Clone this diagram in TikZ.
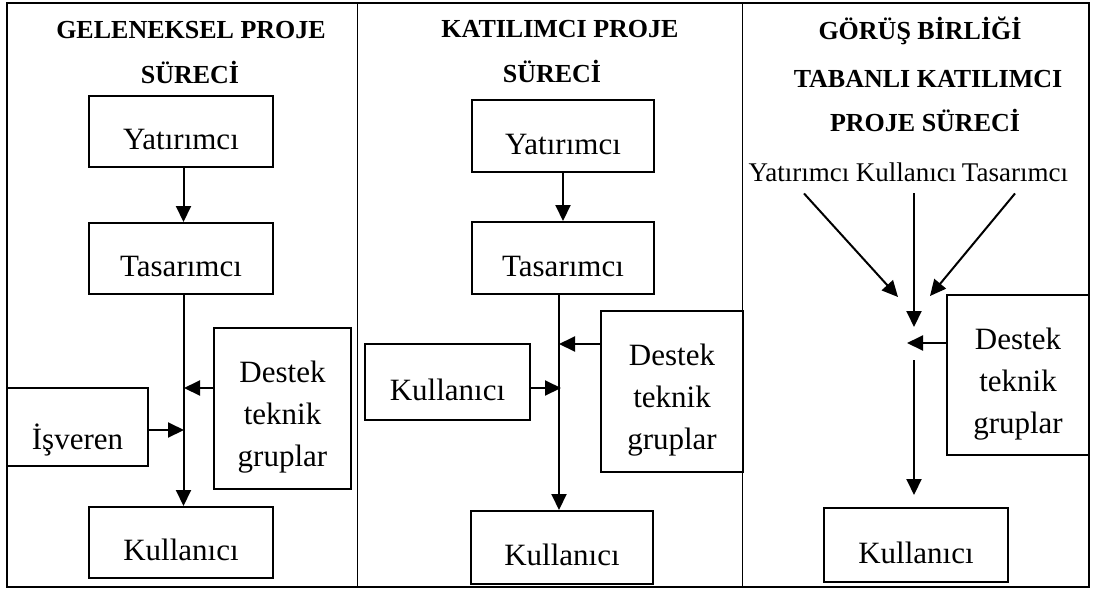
\documentclass[tikz,border=0pt]{standalone}
\usepackage{fontspec}
\setmainfont{Liberation Serif}
\usetikzlibrary{arrows.meta}
\begin{document}
\begin{tikzpicture}[x=1pt,y=-1pt,
  box/.style={draw, line width=2pt, inner sep=0pt,
    font=\fontsize{31}{42}\selectfont, text height=36pt, text depth=0pt},
  destek/.style={box, text height=0pt, text depth=52pt},
  title/.style={font=\fontsize{26}{30}\selectfont\bfseries, anchor=base, inner sep=0pt},
  actor/.style={font=\fontsize{27}{30}\selectfont, anchor=base, inner xsep=0pt, inner ysep=12pt},
  arr/.style={line width=2pt, -{Triangle[length=16pt,width=15pt]}},
  frame/.style={line width=2pt},
  divider/.style={line width=1pt}]
\useasboundingbox (0,0) rectangle (1094,592);

% outer frame and column dividers
\draw[frame] (7,2.5) rectangle (1089,587);
\draw[divider] (357,2.5) -- (357,587);
\draw[divider] (742,2.5) -- (742,587);

% ---- column 1: traditional process
\node[title] (t1a) at (191,38) {GELENEKSEL PROJE};
\node[title] (t1b) at (190,83) {SÜRECİ};
\node[box, minimum width=184pt, minimum height=71pt] (ya1) at (181,131.5) {Yatırımcı};
\node[box, minimum width=184pt, minimum height=71pt] (ta1) at (181,258.5) {Tasarımcı};
\node[destek, minimum width=137pt, minimum height=161pt] (de1) at (282.5,408.5)
  {\begin{tabular}[t]{@{}c@{}}Destek\\teknik\\gruplar\end{tabular}};
\node[box, minimum width=141pt, minimum height=78pt, text height=44pt] (is1) at (77.5,427) {İşveren};
\node[box, minimum width=184pt, minimum height=71pt] (ku1) at (181,542.5) {Kullanıcı};
\coordinate (m1a) at (184,388);
\coordinate (m1b) at (184,430);
\draw[arr] ([xshift=2.5pt]ya1.south) -- ([xshift=2.5pt]ta1.north);
\draw[arr] ([xshift=2.5pt]ta1.south) -- ([xshift=2.5pt]ku1.north);
\draw[arr] (de1.west |- m1a) -- (m1a);
\draw[arr] (is1.east |- m1b) -- (m1b);

% ---- column 2: participatory process
\node[title] (t2a) at (560,37) {KATILIMCI PROJE};
\node[title] (t2b) at (552,82) {SÜRECİ};
\node[box, minimum width=182pt, minimum height=72pt] (ya2) at (563,136) {Yatırımcı};
\node[box, minimum width=182pt, minimum height=72pt] (ta2) at (563,258) {Tasarımcı};
\node[destek, minimum width=142pt, minimum height=161pt] (de2) at (672,391.5)
  {\begin{tabular}[t]{@{}c@{}}Destek\\teknik\\gruplar\end{tabular}};
\node[box, minimum width=165pt, minimum height=76pt] (kl2) at (447.5,382) {Kullanıcı};
\node[box, minimum width=182pt, minimum height=73pt] (ku2) at (562,547.5) {Kullanıcı};
\coordinate (m2a) at (559,344);
\coordinate (m2b) at (561,388);
\draw[arr] (ya2.south) -- (ta2.north);
\draw[arr] ([xshift=-4pt]ta2.south) -- ([xshift=-3pt]ku2.north);
\draw[arr] (de2.west |- m2a) -- (m2a);
\draw[arr] (kl2.east |- m2b) -- (m2b);

% ---- column 3: consensus-based participatory process
\node[title] (t3a) at (920,39) {GÖRÜŞ BİRLİĞİ};
\node[title] (t3b) at (928,87) {TABANLI KATILIMCI};
\node[title] (t3c) at (925,131) {PROJE SÜRECİ};
\node[actor] (yt3) at (799,181) {Yatırımcı};
\node[actor] (kt3) at (906,181) {Kullanıcı};
\node[actor] (tt3) at (1015,181) {Tasarımcı};
\node[destek, minimum width=142pt, minimum height=160pt] (de3) at (1018,375)
  {\begin{tabular}[t]{@{}c@{}}Destek\\teknik\\gruplar\end{tabular}};
\node[box, minimum width=184pt, minimum height=74pt] (ku3) at (916,545) {Kullanıcı};
\coordinate (c3l) at (898,297);
\coordinate (c3r) at (930,296);
\coordinate (c3m) at (914,327);
\coordinate (c3d) at (907,343);
\coordinate (c3s) at (914,360);
\coordinate (c3e) at (914,495);
\draw[arr] ([xshift=5pt]yt3.south) -- (c3l);
\draw[arr] (kt3.south -| c3m) -- (c3m);
\draw[arr] (tt3.south) -- (c3r);
\draw[arr] (de3.west |- c3d) -- (c3d);
\draw[arr] (c3s) -- (c3e);
\end{tikzpicture}
\end{document}
